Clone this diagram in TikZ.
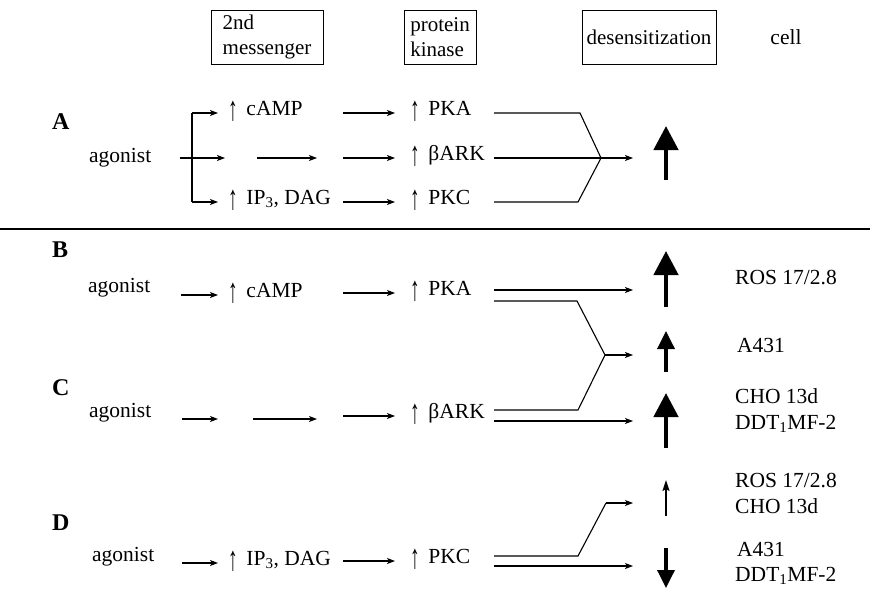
\documentclass[tikz,border=0pt]{standalone}
\usepackage{fontspec}
\usepackage{graphicx}
\setmainfont{Liberation Serif}
\usetikzlibrary{arrows.meta}
% tall, slim "increase" arrow set in front of a messenger or kinase name
\newcommand{\incr}{\raisebox{-0.25em}{\scalebox{0.9}[1.6]{↑}}\hspace{0.4em}}
\begin{document}
\begin{tikzpicture}[x=1pt,y=-1pt,
  lbl/.style={inner sep=0pt, font=\fontsize{21.5}{26}\selectfont},
  rowtext/.style={lbl, anchor=mid west},
  basetext/.style={lbl, anchor=base west},
  hdr/.style={draw, line width=1pt, inner sep=0pt, minimum height=54pt,
    align=left, font=\fontsize{21}{25}\selectfont},
  panel/.style={inner sep=0pt, anchor=base west, font=\fontsize{24}{28}\selectfont\bfseries},
  wire/.style={line width=1.1pt},
  flow/.style={wire, -{Stealth[length=8pt,width=6pt,inset=2pt]}},
  heavy/.style={line width=4.5pt, -{Triangle[length=24pt,width=24pt]}},
  medium/.style={line width=3.5pt, -{Triangle[length=18pt,width=17pt]}},
  slim/.style={line width=1.6pt, -{Stealth[length=11pt,width=7pt,inset=2pt]}}
]
\useasboundingbox (0,0) rectangle (870,589);

% column headings
\node[hdr, minimum width=112pt] (msg) at (267,37) {2nd\\messenger};
\node[hdr, minimum width=72pt] (kin) at (440,37) {protein\\kinase};
\node[hdr, minimum width=134pt] (des) at (649,37) {desensitization};
\node[lbl] (cell) at (786,37) {cell};

% ---------------- panel A ----------------
\node[panel] (labA) at (52,129) {A};
\node[basetext] (agA) at (89,162) {agonist};
\node[rowtext] (campA) at (228,113) {\incr cAMP};
\node[rowtext] (ipA) at (228,202) {\incr IP\textsubscript{3}, DAG};
\node[rowtext] (pkaA) at (410,113) {\incr PKA};
\node[rowtext] (barkA) at (410,158) {\incr βARK};
\node[rowtext] (pkcA) at (410,202) {\incr PKC};

\coordinate (jA) at (192,158);
\coordinate (tA1) at (225,158);
\coordinate (sA2) at (257,158);
\coordinate (tA2) at (317,158);
\coordinate (mA) at (601,158);

\draw[wire] (jA |- campA.mid west) -- (jA |- ipA.mid west);
\draw[flow, shorten >=10pt] (jA |- campA.mid west) -- (campA.mid west);
\draw[flow, shorten >=10pt] (jA |- ipA.mid west) -- (ipA.mid west);
\draw[flow] ([xshift=28pt]agA.east |- jA) -- (tA1);
\draw[flow] (sA2) -- (tA2);
\draw[flow] ([xshift=-67pt]pkaA.mid west) -- ([xshift=-15pt]pkaA.mid west);
\draw[flow] ([xshift=-67pt]barkA.mid west) -- ([xshift=-15pt]barkA.mid west);
\draw[flow] ([xshift=-67pt]pkcA.mid west) -- ([xshift=-15pt]pkcA.mid west);

\draw[wire] ([xshift=84pt]pkaA.mid west) -- ++(86,0) -- (mA);
\draw[wire] ([xshift=84pt]pkcA.mid west) -- ++(84,0) -- (mA);
\draw[flow] ([xshift=84pt]barkA.mid west) -- ([xshift=223pt]barkA.mid west);

\draw[heavy] (666,180) -- (666,126);

% separating rule
\draw[line width=2pt] (0,229) -- (870,229);

% ---------------- panel B ----------------
\node[panel] (labB) at (52,257) {B};
\node[basetext] (agB) at (88,292) {agonist};
\node[rowtext] (campB) at (228,295) {\incr cAMP};
\node[rowtext] (pkaB) at (410,293) {\incr PKA};

\draw[flow] ([xshift=-47pt]campB.mid west) -- ([xshift=-10pt]campB.mid west);
\draw[flow] ([xshift=-67pt]pkaB.mid west) -- ([xshift=-15pt]pkaB.mid west);

% ---------------- panel C ----------------
\node[panel] (labC) at (52,395) {C};
\node[basetext] (agC) at (89,417) {agonist};
\node[rowtext] (barkC) at (410,416) {\incr βARK};

\coordinate (sC1) at (182,419);
\coordinate (tC1) at (218,419);
\coordinate (sC2) at (253,419);
\coordinate (tC2) at (317,419);
\draw[flow] (sC1) -- (tC1);
\draw[flow] (sC2) -- (tC2);
\draw[flow] ([xshift=-67pt]barkC.mid west) -- ([xshift=-15pt]barkC.mid west);

% outputs of PKA and betaARK
\coordinate (mBC) at (605,355);
\draw[flow] ([shift={(84,-3)}]pkaB.mid west) -- ++(139,0);
\draw[wire] ([shift={(84,8)}]pkaB.mid west) -- ++(83,0) -- (mBC);
\draw[wire] ([shift={(84,-6)}]barkC.mid west) -- ++(84,0) -- (mBC);
\draw[flow] (mBC) -- ++(28,0);
\draw[flow] ([shift={(84,5)}]barkC.mid west) -- ++(139,0);

\draw[heavy] (666,307) -- (666,251);
\draw[medium] (666,372) -- (666,331);
\draw[heavy] (666,448) -- (666,393);

\node[basetext] (rosB) at (735,284) {ROS 17/2.8};
\node[basetext] (a431B) at (737,352) {A431};
\node[basetext] (choC) at (735,403) {CHO 13d};
\node[basetext] (ddtC) at (735,429) {DDT\textsubscript{1}MF-2};

% ---------------- panel D ----------------
\node[panel] (labD) at (52,530) {D};
\node[basetext] (agD) at (92,561) {agonist};
\node[rowtext] (ipD) at (228,563) {\incr IP\textsubscript{3}, DAG};
\node[rowtext] (pkcD) at (410,561) {\incr PKC};

\draw[flow] ([xshift=-46pt]ipD.mid west) -- ([xshift=-10pt]ipD.mid west);
\draw[flow] ([xshift=-67pt]pkcD.mid west) -- ([xshift=-15pt]pkcD.mid west);

\coordinate (mD) at (606,503);
\draw[wire] ([shift={(84,-5)}]pkcD.mid west) -- ++(84,0) -- (mD);
\draw[flow] (mD) -- ++(27,0);
\draw[flow] ([shift={(84,5)}]pkcD.mid west) -- ++(139,0);

\draw[slim] (666,516) -- (666,480);
\draw[medium] (666,548) -- (666,588);

\node[basetext] (rosD) at (735,487) {ROS 17/2.8};
\node[basetext] (choD) at (735,513) {CHO 13d};
\node[basetext] (a431D) at (737,556) {A431};
\node[basetext] (ddtD) at (735,581) {DDT\textsubscript{1}MF-2};
\end{tikzpicture}
\end{document}
